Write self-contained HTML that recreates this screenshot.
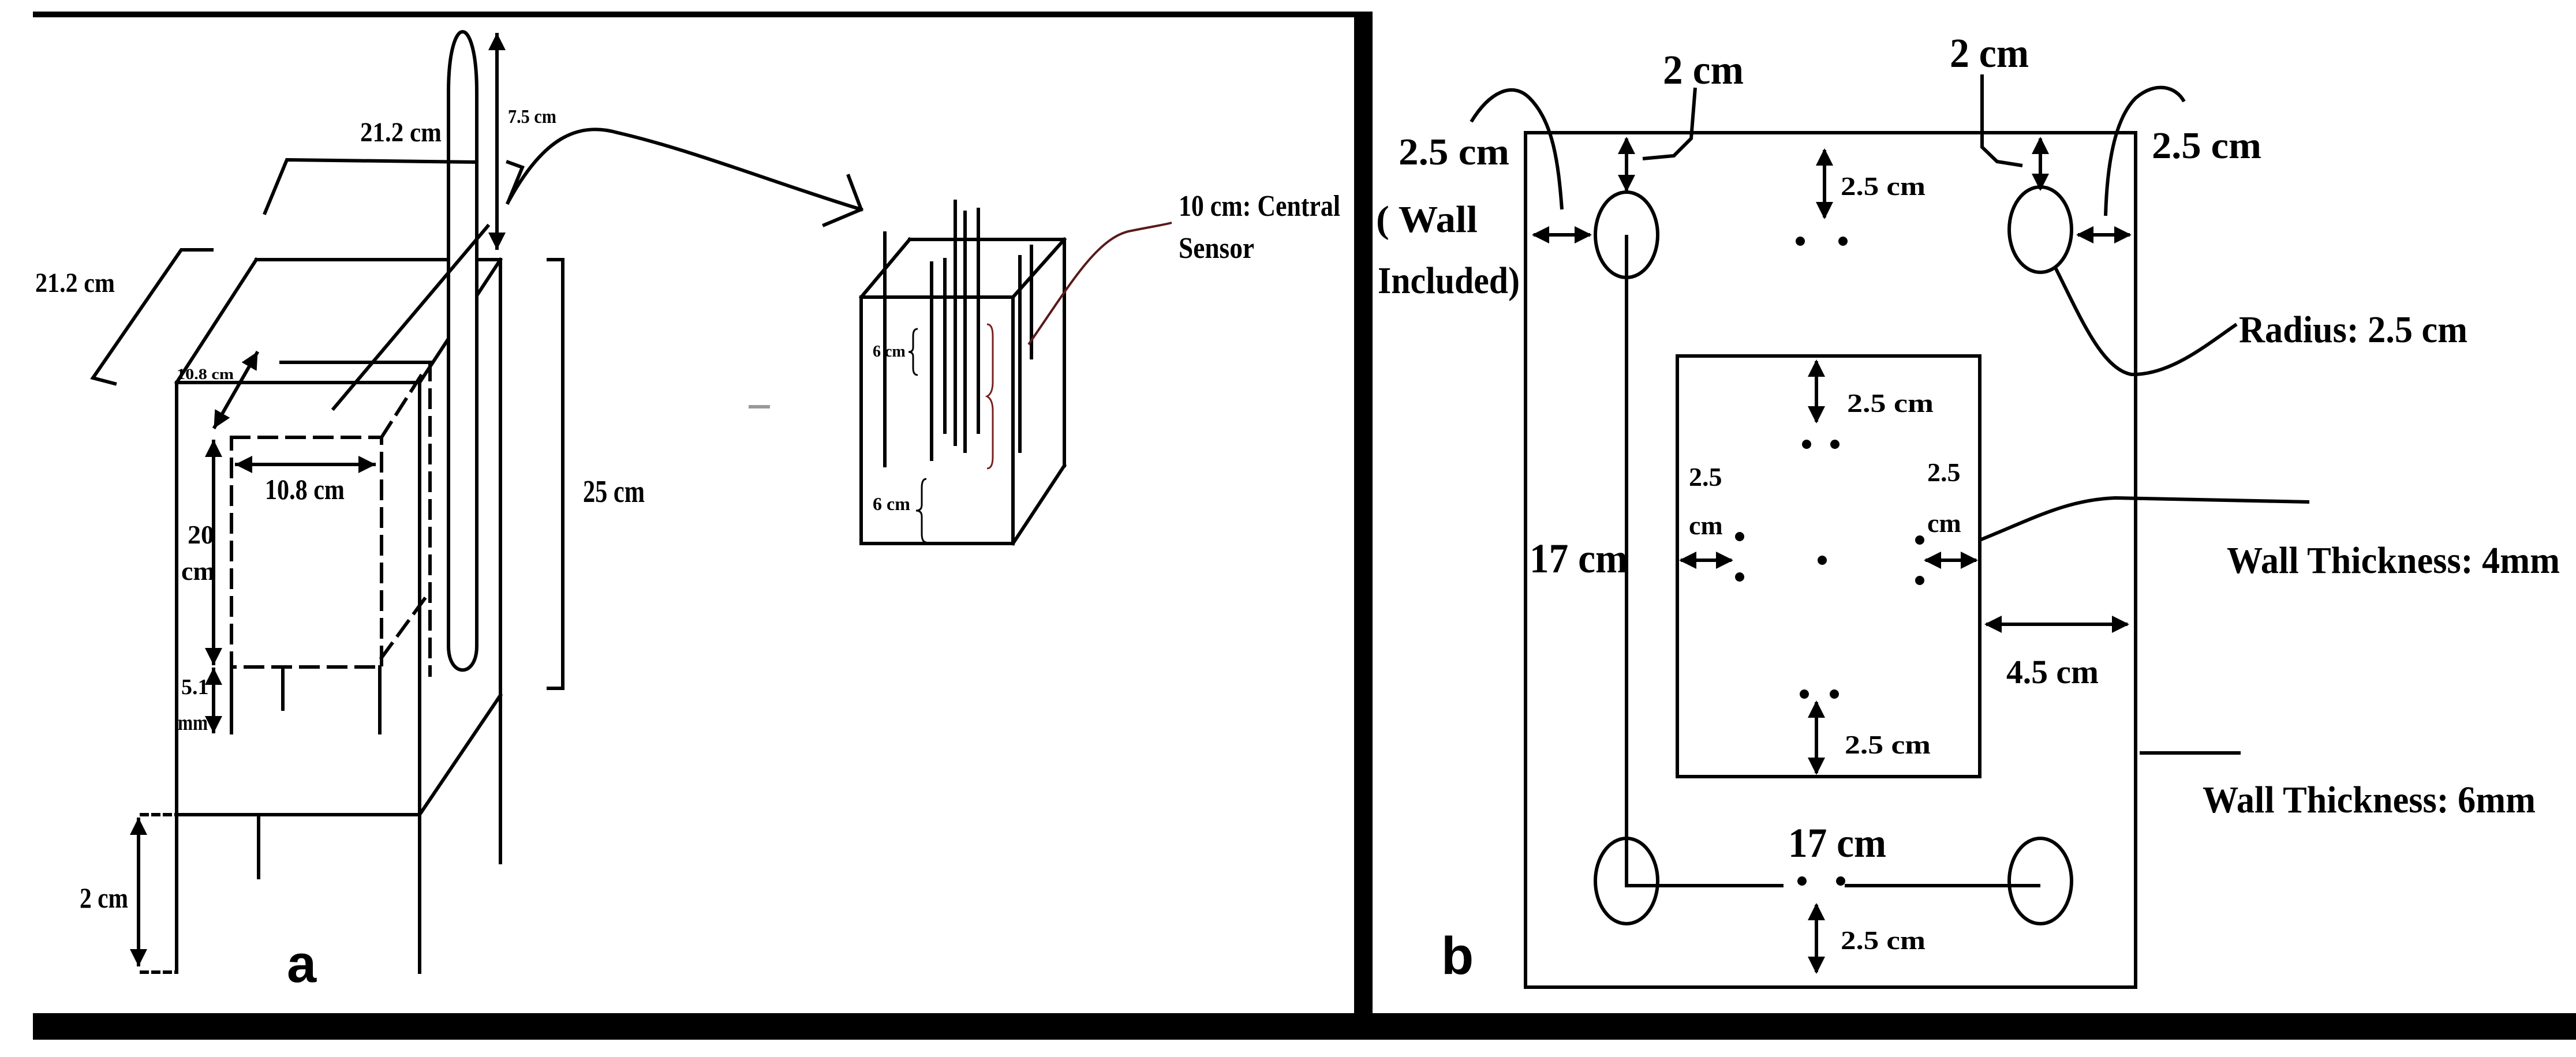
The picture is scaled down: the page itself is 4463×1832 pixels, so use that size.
<!DOCTYPE html>
<html><head><meta charset="utf-8"><style>html,body{margin:0;padding:0;background:#fff}svg{display:block}</style></head>
<body>
<svg width="4463" height="1832" viewBox="0 0 4463 1832" xmlns="http://www.w3.org/2000/svg">
<defs>
<marker id="ah" markerUnits="userSpaceOnUse" markerWidth="30" markerHeight="30" viewBox="0 0 10 10" refX="9" refY="5" orient="auto-start-reverse"><path d="M0,0 L10,5 L0,10 Z" fill="#000"/></marker>
</defs>
<rect width="4463" height="1832" fill="#fff"/>
<!-- frame -->
<rect x="57" y="20" width="2300" height="10" fill="#000"/>
<rect x="2346" y="20" width="32" height="1760" fill="#000"/>
<rect x="57" y="1756" width="4406" height="46" fill="#000"/>

<g fill="none" stroke="#000" stroke-width="6" stroke-linecap="square">
<!-- big box -->
<rect x="306" y="663" width="421" height="749"/>
<line x1="306" y1="663" x2="444" y2="450"/>
<line x1="444" y1="450" x2="867" y2="450"/>
<line x1="727" y1="663" x2="867" y2="450"/>
<line x1="867" y1="450" x2="867" y2="1495"/>
<line x1="727" y1="1412" x2="867" y2="1205"/>
<line x1="306" y1="1412" x2="306" y2="1685"/>
<line x1="727" y1="1412" x2="727" y2="1685"/>
<line x1="448" y1="1412" x2="448" y2="1521"/>
<!-- loop -->
<path d="M777,160 C777,20 826,20 826,160 L826,1120 C826,1175 777,1175 777,1120 Z" fill="#fff"/>
<!-- inner dashed -->
<rect x="401" y="758" width="260" height="398" stroke-dasharray="30,18"/>
<line x1="487" y1="628" x2="745" y2="628"/>
<line x1="745" y1="628" x2="745" y2="1170" stroke-dasharray="30,18"/>
<line x1="661" y1="758" x2="730" y2="650" stroke-dasharray="30,18"/>
<line x1="661" y1="1140" x2="745" y2="1025" stroke-dasharray="30,18"/>
<line x1="578" y1="708" x2="845" y2="392"/>
<line x1="490" y1="1156" x2="490" y2="1229"/>
<line x1="658" y1="1156" x2="658" y2="1270"/>
<line x1="401" y1="1156" x2="401" y2="1270"/>
<!-- dotted -->
<line x1="245" y1="1412" x2="306" y2="1412" stroke-dasharray="10,10"/>
<line x1="245" y1="1685" x2="306" y2="1685" stroke-dasharray="10,10"/>
<!-- brackets -->
<polyline points="459,369 497,277 826,281"/>
<polyline points="367,433 314,433 161,655 199,665"/>
<polyline points="880,281 905,290 880,351"/>
<polyline points="950,450 975,450 975,1193 950,1193"/>
<!-- arrows -->
<line x1="861" y1="60" x2="861" y2="430" marker-start="url(#ah)" marker-end="url(#ah)"/>
<line x1="372" y1="740" x2="445" y2="612" marker-start="url(#ah)" marker-end="url(#ah)"/>
<line x1="410" y1="805" x2="648" y2="805" marker-start="url(#ah)" marker-end="url(#ah)"/>
<line x1="370" y1="765" x2="370" y2="1150" marker-start="url(#ah)" marker-end="url(#ah)"/>
<line x1="370" y1="1160" x2="370" y2="1268" marker-start="url(#ah)" marker-end="url(#ah)"/>
<line x1="240" y1="1420" x2="240" y2="1672" marker-start="url(#ah)" marker-end="url(#ah)"/>
<!-- curve arrow -->
<path d="M880,351 C940,240 1000,210 1070,230 C1200,260 1350,320 1492,363"/>
<polyline points="1470,305 1492,363 1428,390"/>
<line x1="1300" y1="705" x2="1331" y2="705" stroke="#999"/>
<!-- sensor box -->
<rect x="1492" y="515" width="263" height="427"/>
<line x1="1492" y1="515" x2="1576" y2="415"/>
<line x1="1576" y1="415" x2="1844" y2="415"/>
<line x1="1755" y1="515" x2="1844" y2="415"/>
<line x1="1844" y1="415" x2="1844" y2="807"/>
<line x1="1755" y1="942" x2="1844" y2="807"/>
<line x1="1533" y1="404" x2="1533" y2="807"/>
<line x1="1614" y1="456" x2="1614" y2="796"/>
<line x1="1637" y1="450" x2="1637" y2="749"/>
<line x1="1655" y1="349" x2="1655" y2="770"/>
<line x1="1672" y1="368" x2="1672" y2="782"/>
<line x1="1695" y1="363" x2="1695" y2="749"/>
<line x1="1767" y1="445" x2="1767" y2="782"/>
<line x1="1787" y1="427" x2="1787" y2="620"/>
</g>
<g fill="none" stroke="#000" stroke-width="3">
<path d="M1590,570 q-8,0 -8,12 v20 q0,8 -8,8 q8,0 8,8 v20 q0,12 8,12"/>
<path d="M1605,830 q-8,0 -8,15 v30 q0,10 -10,10 q10,0 10,10 v30 q0,15 8,15"/>
</g>
<path d="M1710,562 q10,0 10,20 v80 q0,20 -10,25 q10,5 10,25 v80 q0,20 -10,20" fill="none" stroke="#7a2020" stroke-width="3"/>
<path d="M1782,597 C1850,500 1900,410 1960,400 C2000,392 2015,390 2030,386" fill="none" stroke="#5a1a1a" stroke-width="4"/>

<g font-family="Liberation Serif, serif" font-weight="bold" fill="#000">
<text x="624" y="245" font-size="48" textLength="141" lengthAdjust="spacingAndGlyphs">21.2 cm</text>
<text x="880" y="213" font-size="34" textLength="84" lengthAdjust="spacingAndGlyphs">7.5 cm</text>
<text x="61" y="506" font-size="48" textLength="138" lengthAdjust="spacingAndGlyphs">21.2 cm</text>
<text x="306" y="657" font-size="26" textLength="99" lengthAdjust="spacingAndGlyphs">10.8 cm</text>
<text x="459" y="865" font-size="50" textLength="138" lengthAdjust="spacingAndGlyphs">10.8 cm</text>
<text x="325" y="942" font-size="46">20</text>
<text x="314" y="1005" font-size="46">cm</text>
<text x="314" y="1203" font-size="38">5.1</text>
<text x="308" y="1265" font-size="38" textLength="52" lengthAdjust="spacingAndGlyphs">mm</text>
<text x="138" y="1573" font-size="50" textLength="84" lengthAdjust="spacingAndGlyphs">2 cm</text>
<text x="1010" y="870" font-size="55" textLength="107" lengthAdjust="spacingAndGlyphs">25 cm</text>
<text x="1512" y="618" font-size="28">6 cm</text>
<text x="1512" y="884" font-size="32">6 cm</text>
<text x="2042" y="374" font-size="52" textLength="280" lengthAdjust="spacingAndGlyphs">10 cm: Central</text>
<text x="2042" y="447" font-size="52" textLength="131" lengthAdjust="spacingAndGlyphs">Sensor</text>
</g>
<text x="497" y="1702" font-family="Liberation Sans, sans-serif" font-weight="bold" font-size="92">a</text>

<!-- panel b -->
<g fill="none" stroke="#000" stroke-width="6">
<rect x="2643" y="230" width="1057" height="1481"/>
<rect x="2906" y="617" width="524" height="729"/>
<ellipse cx="2818" cy="407" rx="54" ry="74"/>
<ellipse cx="3535" cy="398" rx="54" ry="74"/>
<ellipse cx="2818" cy="1527" rx="54" ry="74"/>
<ellipse cx="3535" cy="1527" rx="54" ry="74"/>
<polyline points="2818,407 2818,1535 3090,1535"/>
<line x1="3196" y1="1535" x2="3535" y2="1535"/>
<line x1="3707" y1="1305" x2="3882" y2="1305"/>
<path d="M3430,936 C3520,900 3580,866 3665,863 L4001,870"/>
<path d="M3560,462 C3600,540 3640,640 3693,649 C3760,650 3820,600 3875,562"/>
<polyline points="2937,152 2930,240 2900,270 2846,275"/>
<polyline points="3434,129 3434,255 3460,280 3504,287"/>
<path d="M2549,211 C2580,160 2620,140 2650,170 C2690,210 2700,280 2706,363"/>
<path d="M3784,176 C3770,150 3735,140 3700,170 C3660,210 3650,300 3648,374"/>
<line x1="2818" y1="240" x2="2818" y2="330" marker-start="url(#ah)" marker-end="url(#ah)"/>
<line x1="3535" y1="240" x2="3535" y2="328" marker-start="url(#ah)" marker-end="url(#ah)"/>
<line x1="3161" y1="260" x2="3161" y2="377" marker-start="url(#ah)" marker-end="url(#ah)"/>
<line x1="2657" y1="407" x2="2755" y2="407" marker-start="url(#ah)" marker-end="url(#ah)"/>
<line x1="3600" y1="407" x2="3690" y2="407" marker-start="url(#ah)" marker-end="url(#ah)"/>
<line x1="3147" y1="626" x2="3147" y2="731" marker-start="url(#ah)" marker-end="url(#ah)"/>
<line x1="2912" y1="971" x2="3000" y2="971" marker-start="url(#ah)" marker-end="url(#ah)"/>
<line x1="3336" y1="971" x2="3424" y2="971" marker-start="url(#ah)" marker-end="url(#ah)"/>
<line x1="3147" y1="1217" x2="3147" y2="1340" marker-start="url(#ah)" marker-end="url(#ah)"/>
<line x1="3147" y1="1568" x2="3147" y2="1685" marker-start="url(#ah)" marker-end="url(#ah)"/>
<line x1="3441" y1="1082" x2="3686" y2="1082" marker-start="url(#ah)" marker-end="url(#ah)"/>
</g>
<g fill="#000">
<circle cx="3119" cy="418" r="8"/><circle cx="3193" cy="418" r="8"/>
<circle cx="3130" cy="770" r="8"/><circle cx="3179" cy="770" r="8"/>
<circle cx="3014" cy="930" r="8"/><circle cx="3014" cy="1000" r="8"/>
<circle cx="3157" cy="971" r="8"/>
<circle cx="3326" cy="936" r="8"/><circle cx="3326" cy="1006" r="8"/>
<circle cx="3126" cy="1203" r="8"/><circle cx="3178" cy="1203" r="8"/>
<circle cx="3122" cy="1527" r="8"/><circle cx="3189" cy="1527" r="8"/>
</g>
<g font-family="Liberation Serif, serif" font-weight="bold" fill="#000">
<text x="2881" y="145" font-size="72" textLength="140" lengthAdjust="spacingAndGlyphs">2 cm</text>
<text x="3378" y="116" font-size="72" textLength="137" lengthAdjust="spacingAndGlyphs">2 cm</text>
<text x="2423" y="285" font-size="66" textLength="192" lengthAdjust="spacingAndGlyphs">2.5 cm</text>
<text x="2384" y="402" font-size="66" textLength="176" lengthAdjust="spacingAndGlyphs">( Wall</text>
<text x="2387" y="508" font-size="66" textLength="246" lengthAdjust="spacingAndGlyphs">Included)</text>
<text x="3728" y="274" font-size="66" textLength="190" lengthAdjust="spacingAndGlyphs">2.5 cm</text>
<text x="3189" y="338" font-size="46" textLength="147" lengthAdjust="spacingAndGlyphs">2.5 cm</text>
<text x="3879" y="593" font-size="66" textLength="396" lengthAdjust="spacingAndGlyphs">Radius: 2.5 cm</text>
<text x="3200" y="714" font-size="46" textLength="150" lengthAdjust="spacingAndGlyphs">2.5 cm</text>
<text x="2926" y="842" font-size="46">2.5</text>
<text x="2926" y="926" font-size="46">cm</text>
<text x="3339" y="834" font-size="46">2.5</text>
<text x="3339" y="922" font-size="46">cm</text>
<text x="2650" y="992" font-size="72" textLength="170" lengthAdjust="spacingAndGlyphs">17 cm</text>
<text x="3858" y="993" font-size="66" textLength="577" lengthAdjust="spacingAndGlyphs">Wall Thickness: 4mm</text>
<text x="3476" y="1184" font-size="58" textLength="160" lengthAdjust="spacingAndGlyphs">4.5 cm</text>
<text x="3196" y="1306" font-size="46" textLength="149" lengthAdjust="spacingAndGlyphs">2.5 cm</text>
<text x="3816" y="1408" font-size="66" textLength="577" lengthAdjust="spacingAndGlyphs">Wall Thickness: 6mm</text>
<text x="3098" y="1485" font-size="72" textLength="170" lengthAdjust="spacingAndGlyphs">17 cm</text>
<text x="3189" y="1645" font-size="46" textLength="147" lengthAdjust="spacingAndGlyphs">2.5 cm</text>
</g>
<text x="2497" y="1688" font-family="Liberation Sans, sans-serif" font-weight="bold" font-size="92">b</text>
</svg>
</body></html>
